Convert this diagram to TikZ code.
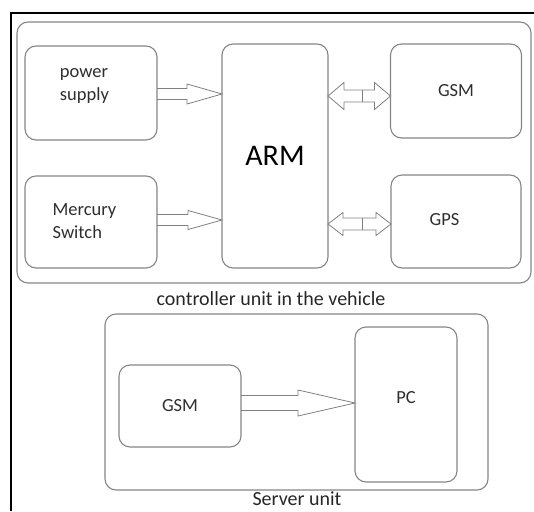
\documentclass[tikz,border=0pt]{standalone}
\usepackage{fontspec}
\setmainfont{Carlito}
\usetikzlibrary{calc}

% hollow block arrow: tail, tip, head length, half shaft, half head
\newcommand{\fatarrow}[5]{%
    \draw[pipe] ($(#1)+(0,-#4)$) -- ($(#2)+(-#3,-#4)$) -- ($(#2)+(-#3,-#5)$) -- (#2)
        -- ($(#2)+(-#3,#5)$) -- ($(#2)+(-#3,#4)$) -- ($(#1)+(0,#4)$);}
% two-way block arrow with a bar in the middle
\newcommand{\dblarrow}[5]{%
    \draw[pipe] (#1) -- ($(#1)+(#3,-#5)$) -- ($(#1)+(#3,-#4)$) -- ($(#2)+(-#3,-#4)$)
        -- ($(#2)+(-#3,-#5)$) -- (#2) -- ($(#2)+(-#3,#5)$) -- ($(#2)+(-#3,#4)$)
        -- ($(#1)+(#3,#4)$) -- ($(#1)+(#3,#5)$) -- cycle;
    \draw[pipe] ($(#1)!0.55!(#2)+(0,-#4)$) -- ($(#1)!0.55!(#2)+(0,#4)$);}

\begin{document}
\begin{tikzpicture}[x=1pt,y=-1pt,inner sep=0pt,outer sep=0pt]
    \tikzstyle{block}=[rectangle,draw=black!48,line width=1.1pt,rounded corners=11pt,
        text=black!82,font=\fontsize{18.5}{23}\selectfont]
    \tikzstyle{txt}=[text=black!82,font=\fontsize{18.5}{23}\selectfont]
    \tikzstyle{pipe}=[draw=black!50,line width=0.8pt,line join=miter]
    \tikzstyle{caption}=[text=black!85,font=\fontsize{20}{24}\selectfont]

    \useasboundingbox (0,0) rectangle (534,511);
    \draw[line width=2.2pt] (534,13) -- (11,13) -- (11,511);

    % controller unit
    \node[block,minimum width=514,minimum height=261] (ctrl) at (274,152.5) {};
    \node[block,minimum width=132,minimum height=94] (pwr) at (91,93) {};
    \node[txt,align=left] (pwrlbl) at (84.5,85.5) {power\\supply};
    \node[block,minimum width=132,minimum height=92] (mer) at (91,222) {};
    \node[txt,align=left] (merlbl) at (84.5,221.5) {Mercury\\Switch};
    \node[block,minimum width=106,minimum height=224,font=\fontsize{30}{36}\selectfont,text=black]
        (arm) at (275,156) {ARM};
    \node[block,minimum width=131,minimum height=94] (gsm) at (456,91) {GSM};
    \node[block,minimum width=130,minimum height=93] (gps) at (456,221.5) {};
    \node[txt] (gpslbl) at (444.5,220) {GPS};
    \node[caption,anchor=base] (ctrllbl) at (271,305) {controller unit in the vehicle};

    \coordinate (pwrout) at ($(pwr.east)+(0,1)$);
    \coordinate (armin1) at (arm.west |- pwrout);
    \coordinate (merout) at ($(mer.east)+(0,-2)$);
    \coordinate (armin2) at (arm.west |- merout);
    \coordinate (gsmin) at ($(gsm.west)+(0,5)$);
    \coordinate (armout1) at (arm.east |- gsmin);
    \coordinate (gpsin) at ($(gps.west)+(0,2.5)$);
    \coordinate (armout2) at (arm.east |- gpsin);

    \fatarrow{pwrout}{armin1}{35}{5.5}{10}
    \fatarrow{merout}{armin2}{34}{5.5}{9.5}
    \dblarrow{armout1}{gsmin}{16}{6}{13.5}
    \dblarrow{armout2}{gpsin}{15}{6}{11.5}

    % server unit
    \node[block,minimum width=383,minimum height=176] (srv) at (296.5,402) {};
    \node[block,minimum width=122,minimum height=82] (gsmb) at (180,406) {GSM};
    \node[block,minimum width=102,minimum height=155] (pc) at (406,404.5) {};
    \node[txt] (pclbl) at (406,398) {PC};
    \node[caption,anchor=base] (srvlbl) at (297,505) {Server unit};

    \coordinate (gsmbout) at ($(gsmb.east)+(0,-3)$);
    \coordinate (pcin) at (pc.west |- gsmbout);
    \fatarrow{gsmbout}{pcin}{57}{7.5}{13}
\end{tikzpicture}
\end{document}
